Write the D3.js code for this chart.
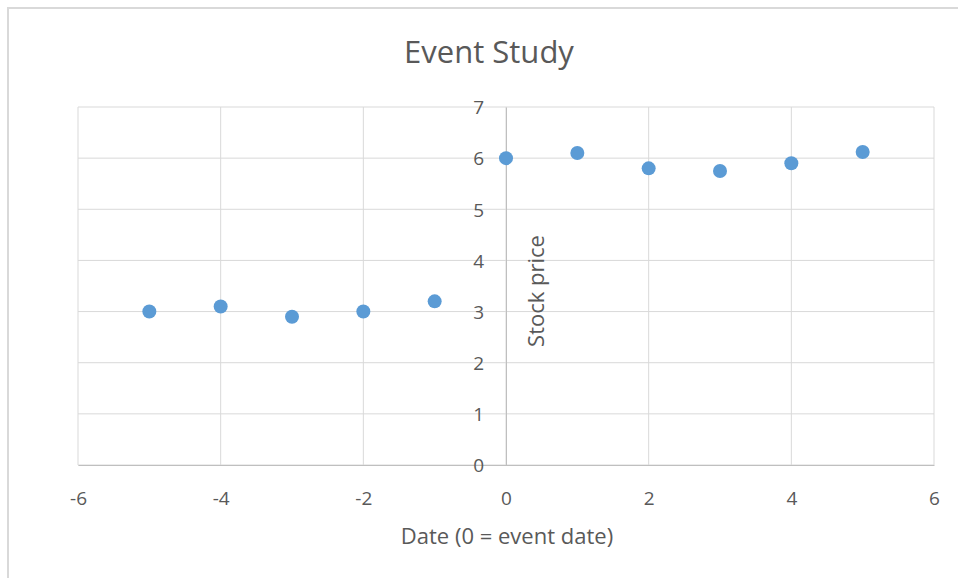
<!DOCTYPE html>
<html>
<head>
<meta charset="utf-8">
<script src="https://cdn.jsdelivr.net/npm/d3@7"></script>
<style>
  html, body { margin: 0; padding: 0; background: #fff; }
  svg { display: block; }
  text { font-family: "Open Sans", "Noto Sans", sans-serif; fill: #595959; }
</style>
</head>
<body>
<svg id="chart" width="958" height="578"></svg>
<script>
// Days relative to the event and the stock price on each day
const days = [-5, -4, -3, -2, -1, 0, 1, 2, 3, 4, 5];
const prices = [3.0, 3.1, 2.9, 3.0, 3.2, 6.0, 6.1, 5.8, 5.75, 5.9, 6.12];
const xTicks = [-6, -4, -2, 0, 2, 4, 6];
const yTicks = [0, 1, 2, 3, 4, 5, 6, 7];

const svg = d3.select("#chart");

// chart frame (top and left edges)
svg.append("path")
  .attr("d", "M8,578 V8 H958")
  .attr("fill", "none")
  .attr("stroke", "#d9d9d9")
  .attr("stroke-width", 2);

const x = d3.scaleLinear().domain([-6, 6]).range([78, 934]);
const y = d3.scaleLinear().domain([0, 7]).range([465, 107]);

// gridlines
svg.append("g").selectAll("line").data(yTicks).join("line")
  .attr("x1", x(-6)).attr("x2", x(6))
  .attr("y1", d => y(d)).attr("y2", d => y(d))
  .attr("stroke", "#d9d9d9").attr("stroke-width", 1);
svg.append("g").selectAll("line").data(xTicks).join("line")
  .attr("x1", d => x(d)).attr("x2", d => x(d))
  .attr("y1", y(0)).attr("y2", y(7))
  .attr("stroke", "#d9d9d9").attr("stroke-width", 1);

// axes crossing at the origin
const xAxis = d3.axisBottom(x).tickValues(xTicks).tickSize(0).tickFormat(d => d < 0 ? "-" + Math.abs(d) : String(d));
const gx = svg.append("g").attr("transform", `translate(0,${y(0)})`).call(xAxis);
gx.attr("font-family", null).attr("font-size", null);
gx.select(".domain").attr("stroke", "#bfbfbf");
gx.selectAll("text").attr("dy", 0).attr("y", 40).attr("font-size", 19).style("fill", "#595959");

const yAxis = d3.axisLeft(y).tickValues(yTicks).tickSize(0).tickFormat(d3.format("d"));
const gy = svg.append("g").attr("transform", `translate(${x(0)},0)`).call(yAxis);
gy.attr("font-family", null).attr("font-size", null);
gy.select(".domain").attr("stroke", "#bfbfbf");
gy.selectAll("text").attr("x", -22).attr("dy", "0.36em").attr("font-size", 19).style("fill", "#595959");

// points
svg.append("g").selectAll("circle").data(days).join("circle")
  .attr("cx", d => x(d))
  .attr("cy", (d, i) => y(prices[i]))
  .attr("r", 7)
  .attr("fill", "#5b9bd5");

// titles
svg.append("text")
  .attr("x", 489).attr("y", 63)
  .attr("text-anchor", "middle")
  .attr("font-size", 31)
  .text("Event Study");

svg.append("text")
  .attr("x", 507).attr("y", 544)
  .attr("text-anchor", "middle")
  .attr("font-size", 22)
  .text("Date (0 = event date)");

svg.append("text")
  .attr("transform", `translate(544,291) rotate(-90)`)
  .attr("text-anchor", "middle")
  .attr("font-size", 22)
  .text("Stock price");
</script>
</body>
</html>
